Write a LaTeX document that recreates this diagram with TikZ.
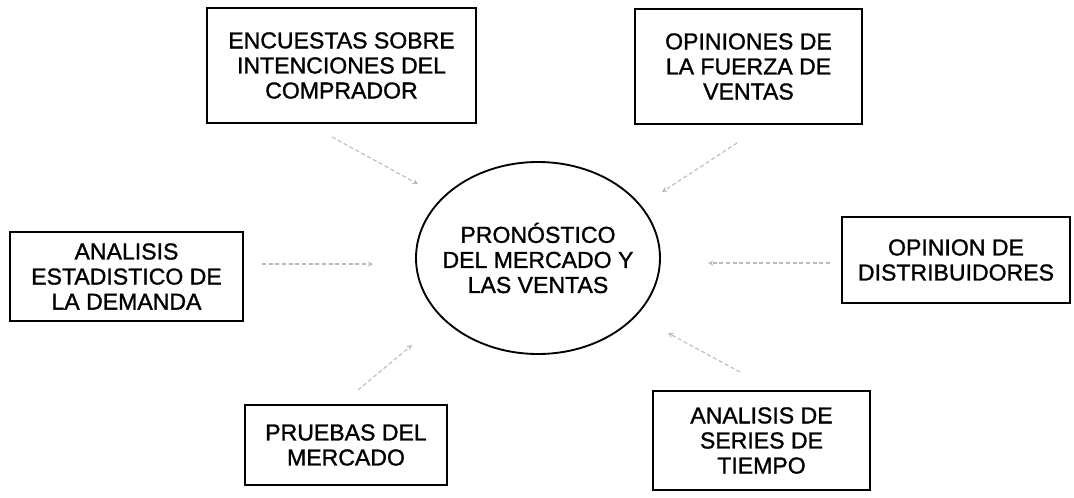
\documentclass[tikz,border=0pt]{standalone}
\usepackage{fontspec}
\setmainfont{Liberation Sans}
\newfontfamily\gruesa[FakeBold=1.2]{Liberation Sans}
\usetikzlibrary{shapes.geometric}

\tikzset{
  caja/.style={draw,line width=1.3pt,align=center,inner sep=0pt,
    font=\gruesa\fontsize{17.3}{18.8}\selectfont},
  flecha/.style={-stealth,gray!55,line width=0.8pt,dash pattern=on 3pt off 2pt}
}

\begin{document}
\begin{tikzpicture}[x=0.75pt,y=-0.75pt]
        \useasboundingbox (0,0) rectangle (1074,497);

        % centro
        \node[caja,ellipse,line width=1.4pt,inner xsep=-7pt,minimum width=183pt,minimum height=144pt] (pron) at (538,258)
            {PRONÓSTICO\\DEL MERCADO Y\\LAS VENTAS};

        % cajas
        \node[caja,minimum width=201.75pt,minimum height=86.25pt] (encu) at (341.5,65.5)
            {ENCUESTAS SOBRE\\INTENCIONES DEL\\COMPRADOR};
        \node[caja,minimum width=170.25pt,minimum height=86.25pt] (fuer) at (748.5,66.5)
            {OPINIONES DE\\LA FUERZA DE\\VENTAS};
        \node[caja,minimum width=174.75pt,minimum height=66.75pt] (esta) at (126.5,276.5)
            {ANALISIS\\ESTADISTICO DE\\LA DEMANDA};
        \node[caja,minimum width=171pt,minimum height=64.5pt] (dist) at (956,260)
            {OPINION DE\\DISTRIBUIDORES};
        \node[caja,minimum width=151.5pt,minimum height=60pt] (prue) at (346,445)
            {PRUEBAS DEL\\MERCADO};
        \node[caja,minimum width=162.75pt,minimum height=74.25pt] (seri) at (761.5,440.5)
            {ANALISIS DE\\SERIES DE\\TIEMPO};

        % puntas de las flechas
        \coordinate (e1) at (332,137);  \coordinate (f1) at (418,184);
        \coordinate (e2) at (737,143);  \coordinate (f2) at (662,192);
        \coordinate (e3) at (262,264);  \coordinate (f3) at (373,264);
        \coordinate (e4) at (830,263);  \coordinate (f4) at (708,263);
        \coordinate (e5) at (358,390);  \coordinate (f5) at (412,345);
        \coordinate (e6) at (740,372);  \coordinate (f6) at (668,333);

        \foreach \i in {1,...,6} {
            \draw[flecha] (e\i) -- (f\i);
        }
\end{tikzpicture}
\end{document}
